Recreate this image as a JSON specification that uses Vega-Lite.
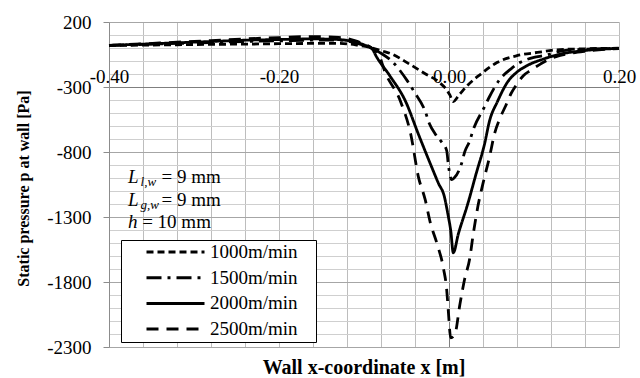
{
  "$schema": "https://vega.github.io/schema/vega-lite/v6.json",
  "width": 510,
  "height": 325,
  "autosize": {"type": "none"},
  "padding": {"left": 109, "top": 22, "right": 21, "bottom": 31},
  "background": "white",
  "config": {"view": {"stroke": null}, "font": "Liberation Serif"},
  "title": {"text": "Wall x-coordinate x [m]", "orient": "bottom", "frame": "group", "anchor": "middle", "font": "Liberation Serif", "fontSize": 20, "fontWeight": "bold", "color": "black", "baseline": "top", "offset": 1},
  "datasets": {
    "curves": [
      {"x": -0.40, "p": 20, "speed": "1000m/min"}, {"x": -0.36, "p": 22, "speed": "1000m/min"}, {"x": -0.32, "p": 25, "speed": "1000m/min"}, {"x": -0.28, "p": 28, "speed": "1000m/min"}, {"x": -0.24, "p": 30, "speed": "1000m/min"}, {"x": -0.20, "p": 33, "speed": "1000m/min"}, {"x": -0.16, "p": 35, "speed": "1000m/min"}, {"x": -0.13, "p": 35, "speed": "1000m/min"}, {"x": -0.11, "p": 25, "speed": "1000m/min"}, {"x": -0.10, "p": 14, "speed": "1000m/min"}, {"x": -0.09, "p": 0, "speed": "1000m/min"}, {"x": -0.08, "p": -20, "speed": "1000m/min"}, {"x": -0.067, "p": -47, "speed": "1000m/min"}, {"x": -0.047, "p": -122, "speed": "1000m/min"}, {"x": -0.028, "p": -198, "speed": "1000m/min"}, {"x": -0.012, "p": -261, "speed": "1000m/min"}, {"x": -0.003, "p": -320, "speed": "1000m/min"}, {"x": 0.001, "p": -361, "speed": "1000m/min"}, {"x": 0.005, "p": -412, "speed": "1000m/min"}, {"x": 0.012, "p": -360, "speed": "1000m/min"}, {"x": 0.022, "p": -286, "speed": "1000m/min"}, {"x": 0.038, "p": -198, "speed": "1000m/min"}, {"x": 0.057, "p": -110, "speed": "1000m/min"}, {"x": 0.08, "p": -59, "speed": "1000m/min"}, {"x": 0.104, "p": -34, "speed": "1000m/min"}, {"x": 0.127, "p": -14, "speed": "1000m/min"}, {"x": 0.16, "p": -6, "speed": "1000m/min"}, {"x": 0.20, "p": -2, "speed": "1000m/min"},

      {"x": -0.40, "p": 20, "speed": "1500m/min"}, {"x": -0.36, "p": 28, "speed": "1500m/min"}, {"x": -0.32, "p": 35, "speed": "1500m/min"}, {"x": -0.28, "p": 42, "speed": "1500m/min"}, {"x": -0.24, "p": 50, "speed": "1500m/min"}, {"x": -0.20, "p": 55, "speed": "1500m/min"}, {"x": -0.16, "p": 60, "speed": "1500m/min"}, {"x": -0.13, "p": 60, "speed": "1500m/min"}, {"x": -0.11, "p": 40, "speed": "1500m/min"}, {"x": -0.10, "p": 20, "speed": "1500m/min"}, {"x": -0.09, "p": -5, "speed": "1500m/min"}, {"x": -0.08, "p": -40, "speed": "1500m/min"}, {"x": -0.068, "p": -97, "speed": "1500m/min"}, {"x": -0.049, "p": -253, "speed": "1500m/min"}, {"x": -0.041, "p": -336, "speed": "1500m/min"}, {"x": -0.028, "p": -487, "speed": "1500m/min"}, {"x": -0.023, "p": -583, "speed": "1500m/min"}, {"x": -0.016, "p": -663, "speed": "1500m/min"}, {"x": -0.008, "p": -730, "speed": "1500m/min"}, {"x": -0.0027, "p": -789, "speed": "1500m/min"}, {"x": -0.0008, "p": -897, "speed": "1500m/min"}, {"x": 0.003, "p": -1012, "speed": "1500m/min"}, {"x": 0.006, "p": -1000, "speed": "1500m/min"}, {"x": 0.0147, "p": -890, "speed": "1500m/min"}, {"x": 0.0186, "p": -797, "speed": "1500m/min"}, {"x": 0.0244, "p": -714, "speed": "1500m/min"}, {"x": 0.028, "p": -638, "speed": "1500m/min"}, {"x": 0.041, "p": -462, "speed": "1500m/min"}, {"x": 0.0476, "p": -375, "speed": "1500m/min"}, {"x": 0.059, "p": -248, "speed": "1500m/min"}, {"x": 0.073, "p": -160, "speed": "1500m/min"}, {"x": 0.084, "p": -110, "speed": "1500m/min"}, {"x": 0.10, "p": -72, "speed": "1500m/min"}, {"x": 0.111, "p": -59, "speed": "1500m/min"}, {"x": 0.135, "p": -21, "speed": "1500m/min"}, {"x": 0.16, "p": -10, "speed": "1500m/min"}, {"x": 0.20, "p": -3, "speed": "1500m/min"},

      {"x": -0.40, "p": 20, "speed": "2000m/min"}, {"x": -0.36, "p": 30, "speed": "2000m/min"}, {"x": -0.32, "p": 40, "speed": "2000m/min"}, {"x": -0.28, "p": 50, "speed": "2000m/min"}, {"x": -0.24, "p": 60, "speed": "2000m/min"}, {"x": -0.20, "p": 65, "speed": "2000m/min"}, {"x": -0.16, "p": 70, "speed": "2000m/min"}, {"x": -0.13, "p": 65, "speed": "2000m/min"}, {"x": -0.11, "p": 45, "speed": "2000m/min"}, {"x": -0.10, "p": 25, "speed": "2000m/min"}, {"x": -0.09, "p": -10, "speed": "2000m/min"}, {"x": -0.086, "p": -59, "speed": "2000m/min"}, {"x": -0.07, "p": -210, "speed": "2000m/min"}, {"x": -0.051, "p": -412, "speed": "2000m/min"}, {"x": -0.036, "p": -663, "speed": "2000m/min"}, {"x": -0.022, "p": -890, "speed": "2000m/min"}, {"x": -0.0124, "p": -1041, "speed": "2000m/min"}, {"x": -0.0055, "p": -1142, "speed": "2000m/min"}, {"x": -0.0016, "p": -1268, "speed": "2000m/min"}, {"x": 0.0023, "p": -1418, "speed": "2000m/min"}, {"x": 0.005, "p": -1575, "speed": "2000m/min"}, {"x": 0.011, "p": -1430, "speed": "2000m/min"}, {"x": 0.0224, "p": -1192, "speed": "2000m/min"}, {"x": 0.032, "p": -965, "speed": "2000m/min"}, {"x": 0.0418, "p": -739, "speed": "2000m/min"}, {"x": 0.0476, "p": -563, "speed": "2000m/min"}, {"x": 0.057, "p": -412, "speed": "2000m/min"}, {"x": 0.069, "p": -261, "speed": "2000m/min"}, {"x": 0.08, "p": -185, "speed": "2000m/min"}, {"x": 0.092, "p": -135, "speed": "2000m/min"}, {"x": 0.111, "p": -85, "speed": "2000m/min"}, {"x": 0.131, "p": -47, "speed": "2000m/min"}, {"x": 0.158, "p": -21, "speed": "2000m/min"}, {"x": 0.20, "p": -3, "speed": "2000m/min"},

      {"x": -0.40, "p": 20, "speed": "2500m/min"}, {"x": -0.36, "p": 32, "speed": "2500m/min"}, {"x": -0.32, "p": 45, "speed": "2500m/min"}, {"x": -0.28, "p": 57, "speed": "2500m/min"}, {"x": -0.24, "p": 70, "speed": "2500m/min"}, {"x": -0.20, "p": 80, "speed": "2500m/min"}, {"x": -0.16, "p": 88, "speed": "2500m/min"}, {"x": -0.13, "p": 82, "speed": "2500m/min"}, {"x": -0.11, "p": 55, "speed": "2500m/min"}, {"x": -0.10, "p": 30, "speed": "2500m/min"}, {"x": -0.09, "p": -5, "speed": "2500m/min"}, {"x": -0.082, "p": -59, "speed": "2500m/min"}, {"x": -0.076, "p": -172, "speed": "2500m/min"}, {"x": -0.057, "p": -412, "speed": "2500m/min"}, {"x": -0.045, "p": -663, "speed": "2500m/min"}, {"x": -0.036, "p": -991, "speed": "2500m/min"}, {"x": -0.028, "p": -1167, "speed": "2500m/min"}, {"x": -0.022, "p": -1343, "speed": "2500m/min"}, {"x": -0.014, "p": -1507, "speed": "2500m/min"}, {"x": -0.0065, "p": -1696, "speed": "2500m/min"}, {"x": -0.0027, "p": -1860, "speed": "2500m/min"}, {"x": -0.0008, "p": -2023, "speed": "2500m/min"}, {"x": 0.002, "p": -2230, "speed": "2500m/min"}, {"x": 0.007, "p": -2200, "speed": "2500m/min"}, {"x": 0.0128, "p": -1973, "speed": "2500m/min"}, {"x": 0.0186, "p": -1771, "speed": "2500m/min"}, {"x": 0.0244, "p": -1620, "speed": "2500m/min"}, {"x": 0.028, "p": -1454, "speed": "2500m/min"}, {"x": 0.034, "p": -1218, "speed": "2500m/min"}, {"x": 0.04, "p": -1041, "speed": "2500m/min"}, {"x": 0.0476, "p": -840, "speed": "2500m/min"}, {"x": 0.0534, "p": -663, "speed": "2500m/min"}, {"x": 0.061, "p": -525, "speed": "2500m/min"}, {"x": 0.067, "p": -440, "speed": "2500m/min"}, {"x": 0.073, "p": -350, "speed": "2500m/min"}, {"x": 0.079, "p": -286, "speed": "2500m/min"}, {"x": 0.088, "p": -210, "speed": "2500m/min"}, {"x": 0.096, "p": -172, "speed": "2500m/min"}, {"x": 0.108, "p": -122, "speed": "2500m/min"}, {"x": 0.117, "p": -89, "speed": "2500m/min"}, {"x": 0.127, "p": -64, "speed": "2500m/min"}, {"x": 0.138, "p": -47, "speed": "2500m/min"}, {"x": 0.16, "p": -25, "speed": "2500m/min"}, {"x": 0.20, "p": -4, "speed": "2500m/min"}
    ],
    "mainText": [
      {"x": -0.3776, "p": -1038, "t": "L"},
      {"x": -0.3776, "p": -1215, "t": "L"},
      {"x": -0.3776, "p": -1385, "t": "h"}
    ],
    "subText": [
      {"x": -0.3629, "p": -1065, "t": "l,w"},
      {"x": -0.3629, "p": -1242, "t": "g,w"}
    ],
    "plainText": [
      {"x": -0.3382, "p": -1038, "t": "= 9 mm"},
      {"x": -0.3382, "p": -1215, "t": "= 9 mm"},
      {"x": -0.3610, "p": -1385, "t": "= 10 mm"}
    ]
  },
  "encoding": {
    "x": {
      "field": "x", "type": "quantitative",
      "scale": {"domain": [-0.4, 0.2], "nice": false, "zero": false},
      "axis": {
        "orient": "top", "offset": -65, "title": null, "domain": false, "ticks": false,
        "values": [-0.4, -0.36, -0.32, -0.28, -0.24, -0.2, -0.16, -0.12, -0.08, -0.04, 0, 0.04, 0.08, 0.12, 0.16, 0.2],
        "labelExpr": "abs(datum.value*5 - round(datum.value*5)) < 1e-6 ? (datum.value < -1e-9 ? '-' : '') + format(abs(datum.value), '.2f') : ''",
        "labelFont": "Liberation Serif", "labelFontSize": 19, "labelColor": "black", "labelPadding": 1,
        "labelOverlap": false, "labelBound": false, "labelFlush": false,
        "grid": true,
        "gridColor": {"condition": {"test": "abs(datum.value) < 1e-9", "value": "#7f7f7f"}, "value": "#bdbdbd"},
        "gridWidth": 1
      }
    },
    "y": {
      "field": "p", "type": "quantitative",
      "scale": {"domain": [-2300, 200], "nice": false, "zero": false},
      "axis": {
        "orient": "left", "title": "Static pressure p at wall [Pa]",
        "values": [200, 100, 0, -100, -200, -300, -400, -500, -600, -700, -800, -900, -1000, -1100, -1200, -1300, -1400, -1500, -1600, -1700, -1800, -1900, -2000, -2100, -2200, -2300],
        "labelExpr": "(datum.value + 2300) % 500 == 0 ? (datum.value < 0 ? '-' + abs(datum.value) : '' + datum.value) : ''",
        "labelFont": "Liberation Serif", "labelFontSize": 19, "labelColor": "black", "labelPadding": 12,
        "labelOverlap": false, "labelBound": false, "labelFlush": false,
        "domain": true, "domainColor": "#8c8c8c", "domainWidth": 1,
        "tickSize": 6, "tickColor": "#8c8c8c",
        "tickOpacity": {"condition": {"test": "(datum.value + 2300) % 500 == 0", "value": 1}, "value": 0},
        "grid": true,
        "gridColor": {"condition": [{"test": "datum.value == -300", "value": "#7f7f7f"}, {"test": "(datum.value + 2300) % 500 == 0", "value": "#a6a6a6"}], "value": "#cfcfcf"},
        "titleFont": "Liberation Serif", "titleFontSize": 16, "titleFontWeight": "bold", "titleColor": "black",
        "titleX": -86, "titleY": 166, "titleBaseline": "middle", "titleAlign": "center"
      }
    }
  },
  "layer": [
    {
      "data": {"name": "curves"},
      "mark": {"type": "line", "interpolate": "monotone", "color": "black", "strokeWidth": 2.8, "strokeCap": "butt"},
      "encoding": {
        "strokeDash": {
          "field": "speed", "type": "nominal",
          "scale": {"domain": ["1000m/min", "1500m/min", "2000m/min", "2500m/min"], "range": [[7, 4], [15, 6, 3, 6], [1, 0], [12, 8]]},
          "legend": {
            "orient": "none", "legendX": 12, "legendY": 218,
            "title": "\u00a0", "titleOrient": "right", "titleFontSize": 19, "titlePadding": 16,
            "strokeColor": "black", "fillColor": "white", "padding": 2.5,
            "labelFont": "Liberation Serif", "labelFontSize": 19, "labelColor": "black",
            "symbolType": "M-3.625,0H3.625", "symbolSize": 256, "symbolStrokeWidth": 3, "symbolStrokeColor": "black",
            "symbolOffset": 42.5, "labelOffset": 25, "rowPadding": 5.7
          }
        }
      }
    },
    {
      "data": {"name": "mainText"},
      "mark": {"type": "text", "font": "Liberation Serif", "fontSize": 19, "fontStyle": "italic", "align": "left", "baseline": "alphabetic", "color": "black"},
      "encoding": {"text": {"field": "t"}}
    },
    {
      "data": {"name": "subText"},
      "mark": {"type": "text", "font": "Liberation Serif", "fontSize": 13, "fontStyle": "italic", "align": "left", "baseline": "alphabetic", "color": "black"},
      "encoding": {"text": {"field": "t"}}
    },
    {
      "data": {"name": "plainText"},
      "mark": {"type": "text", "font": "Liberation Serif", "fontSize": 19, "align": "left", "baseline": "alphabetic", "color": "black"},
      "encoding": {"text": {"field": "t"}}
    }
  ]
}
